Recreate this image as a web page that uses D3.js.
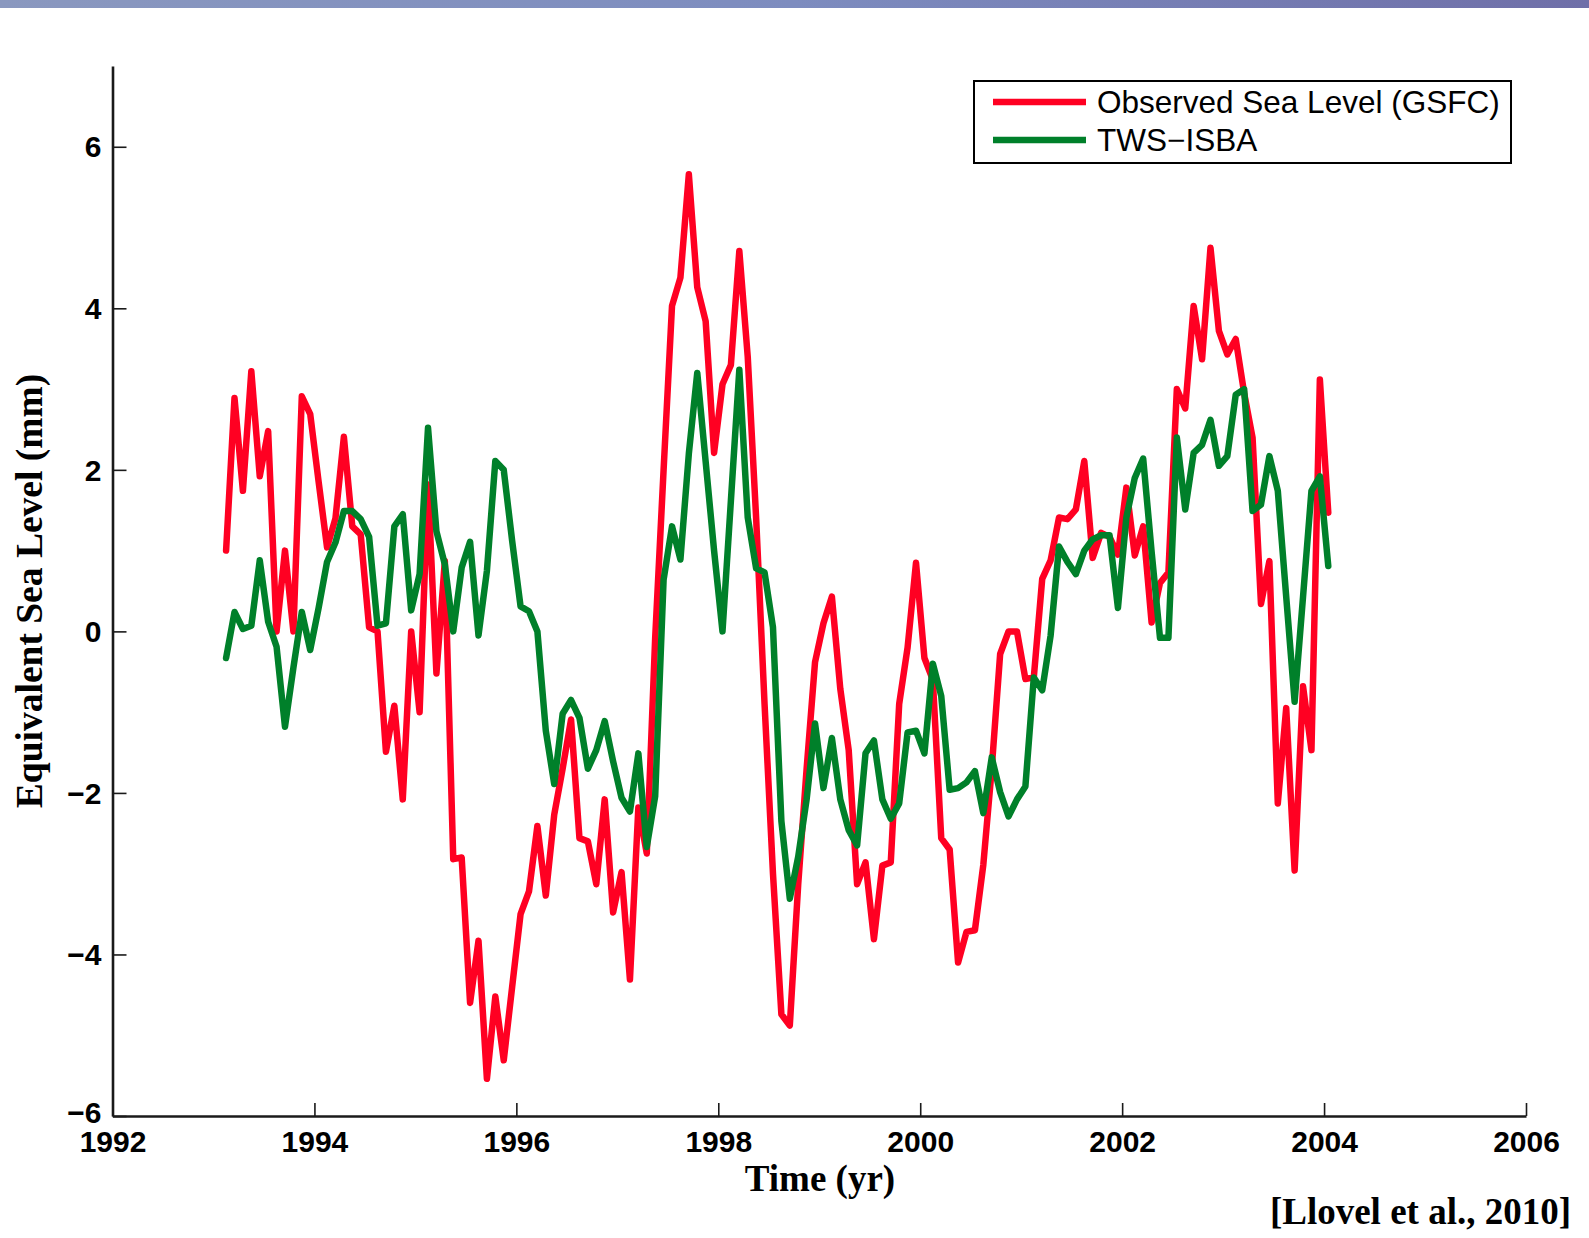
<!DOCTYPE html>
<html>
<head>
<meta charset="utf-8">
<script src="https://cdn.jsdelivr.net/npm/d3@7"></script>
<style>
  html, body { margin: 0; padding: 0; background: #ffffff; }
  svg { display: block; }
</style>
</head>
<body>
<svg id="chart" width="1589" height="1238"></svg>
<script>
// ---------------- DATA (monthly, starting Feb 1993) ----------------
const startYear = 1993.125;
const observedSeaLevel = [
  1.0, 2.89, 1.74, 3.22, 1.92, 2.48, 0.0, 1.0, 0.0, 2.91, 2.69, 1.85,
  1.04, 1.4, 2.41, 1.3, 1.2, 0.05, 0.0, -1.49, -0.92, -2.08, 0.0, -1.0,
  1.82, -0.52, 0.87, -2.82, -2.8, -4.6, -3.83, -5.54, -4.52, -5.31, -4.4, -3.5,
  -3.22, -2.41, -3.27, -2.27, -1.70, -1.09, -2.56, -2.6, -3.13, -2.08, -3.48, -2.98,
  -4.31, -2.18, -2.75, -0.08, 2.0, 4.03, 4.38, 5.66, 4.26, 3.84, 2.21, 3.06,
  3.3, 4.71, 3.4, 1.4, -0.9, -3.0, -4.74, -4.88, -3.13, -1.70, -0.38, 0.1,
  0.43, -0.71, -1.47, -3.13, -2.86, -3.81, -2.9, -2.86, -0.9, -0.2, 0.85, -0.33,
  -0.6, -2.56, -2.7, -4.1, -3.72, -3.7, -2.89, -1.70, -0.28, 0.0, 0.0, -0.59,
  -0.57, 0.65, 0.88, 1.41, 1.39, 1.51, 2.11, 0.91, 1.22, 1.17, 0.95, 1.78,
  0.94, 1.3, 0.11, 0.6, 0.73, 3.0, 2.76, 4.03, 3.37, 4.75, 3.72, 3.43,
  3.62, 2.95, 2.4, 0.34, 0.87, -2.13, -0.95, -2.96, -0.68, -1.47, 3.12, 1.47
];
const twsIsba = [
  -0.33, 0.24, 0.03, 0.07, 0.88, 0.12, -0.19, -1.18, -0.45, 0.24, -0.23, 0.29,
  0.86, 1.1, 1.49, 1.49, 1.39, 1.17, 0.07, 0.1, 1.3, 1.45, 0.26, 0.71,
  2.52, 1.24, 0.83, 0.0, 0.79, 1.11, -0.05, 0.75, 2.11, 2.0, 1.12, 0.31,
  0.25, 0.0, -1.23, -1.89, -1.02, -0.85, -1.07, -1.70, -1.47, -1.11, -1.61, -2.06,
  -2.23, -1.51, -2.67, -2.04, 0.64, 1.3, 0.89, 2.2, 3.2, 2.1, 1.0, 0.0,
  1.62, 3.24, 1.41, 0.78, 0.73, 0.05, -2.35, -3.31, -2.79, -2.08, -1.14, -1.94,
  -1.32, -2.08, -2.46, -2.65, -1.51, -1.35, -2.08, -2.32, -2.13, -1.25, -1.23, -1.51,
  -0.4, -0.8, -1.96, -1.94, -1.87, -1.73, -2.25, -1.56, -1.99, -2.29, -2.08, -1.92,
  -0.57, -0.73, -0.05, 1.05, 0.86, 0.71, 1.0, 1.14, 1.19, 1.19, 0.29, 1.41,
  1.9, 2.14, 0.99, -0.08, -0.08, 2.4, 1.51, 2.21, 2.31, 2.62, 2.05, 2.17,
  2.93, 3.0, 1.49, 1.57, 2.17, 1.74, 0.43, -0.87, 0.43, 1.74, 1.92, 0.81
];
const timeYears = observedSeaLevel.map((_, i) => startYear + i / 12);
const xTickValues = [1992, 1994, 1996, 1998, 2000, 2002, 2004, 2006];
const yTickValues = [-6, -4, -2, 0, 2, 4, 6];
const seriesLabels = ["Observed Sea Level (GSFC)", "TWS\u2212ISBA"];
const seriesColors = ["#ff0022", "#00802a"];

// ---------------- LAYOUT ----------------
const svg = d3.select("#chart");
const plotLeft = 112.5, plotRight = 1526, plotTop = 66, plotBottom = 1116;

const x = d3.scaleLinear().domain([1992, 2006]).range([plotLeft, plotRight]);
const y = d3.scaleLinear().domain([-6, 7]).range([plotBottom, plotTop]);

// top decorative band
const defs = svg.append("defs");
const grad = defs.append("linearGradient").attr("id", "band").attr("x1", "0%").attr("x2", "100%");
grad.append("stop").attr("offset", "0%").attr("stop-color", "#8a98bf");
grad.append("stop").attr("offset", "50%").attr("stop-color", "#7d8cbf");
grad.append("stop").attr("offset", "100%").attr("stop-color", "#6f6fa8");
svg.append("rect").attr("x", 0).attr("y", 0).attr("width", 1589).attr("height", 8).attr("fill", "url(#band)");

// lines
const lineGen = d3.line().x((d, i) => x(timeYears[i])).y(d => y(d));
const plot = svg.append("g");
[observedSeaLevel, twsIsba].forEach((series, k) => {
  plot.append("path")
    .datum(series)
    .attr("d", lineGen)
    .attr("fill", "none")
    .attr("stroke", seriesColors[k])
    .attr("stroke-width", 6.5)
    .attr("stroke-linejoin", "round")
    .attr("stroke-linecap", "round");
});

// axes
const tickFont = "'Liberation Sans', Arial, Helvetica, sans-serif";
const xAxis = d3.axisBottom(x).tickValues(xTickValues).tickFormat(d3.format("d"))
  .tickSizeInner(-13).tickSizeOuter(0).tickPadding(15);
const yAxis = d3.axisLeft(y).tickValues(yTickValues).tickFormat(d => (d < 0 ? "\u2212" : "") + Math.abs(d))
  .tickSizeInner(-14).tickSizeOuter(0).tickPadding(11);

const gx = svg.append("g").attr("transform", `translate(0,${plotBottom})`).call(xAxis);
const gy = svg.append("g").attr("transform", `translate(${plotLeft},0)`).call(yAxis);
[gx, gy].forEach(g => {
  g.select(".domain").attr("stroke", "#1a1a1a").attr("stroke-width", 2.6);
  g.selectAll(".tick line").attr("stroke", "#1a1a1a").attr("stroke-width", 1.6);
  g.selectAll(".tick text")
    .attr("fill", "#000")
    .style("font-family", tickFont)
    .style("font-weight", "bold")
    .style("font-size", "30px");
});
gx.selectAll(".tick text").attr("dy", "0.71em");
gy.selectAll(".tick text").attr("dy", "0.34em");
// lowest y label sits just above the x labels, as in the reference
gy.selectAll(".tick text").filter(d => d === -6).attr("dy", "0.2em");

// axis titles
const serif = "'Liberation Serif', 'Times New Roman', Times, serif";
svg.append("text")
  .attr("x", 820).attr("y", 1191)
  .attr("text-anchor", "middle")
  .style("font-family", serif).style("font-weight", "bold").style("font-size", "37px")
  .text("Time (yr)");
svg.append("text")
  .attr("transform", `translate(42,${(plotTop + plotBottom) / 2}) rotate(-90)`)
  .attr("text-anchor", "middle")
  .style("font-family", serif).style("font-weight", "bold").style("font-size", "37.5px")
  .text("Equivalent Sea Level (mm)");
svg.append("text")
  .attr("x", 1571).attr("y", 1224)
  .attr("text-anchor", "end")
  .style("font-family", serif).style("font-weight", "bold").style("font-size", "37px")
  .text("[Llovel et al., 2010]");

// legend
const lg = svg.append("g");
lg.append("rect").attr("x", 974).attr("y", 81).attr("width", 537).attr("height", 82)
  .attr("fill", "#fff").attr("stroke", "#000").attr("stroke-width", 2);
seriesLabels.forEach((lab, k) => {
  const ly = 102 + k * 38;
  lg.append("line").attr("x1", 993).attr("x2", 1086).attr("y1", ly).attr("y2", ly)
    .attr("stroke", seriesColors[k]).attr("stroke-width", 6.5);
  lg.append("text").attr("x", 1097).attr("y", ly + 11)
    .style("font-family", tickFont).style("font-size", "31.5px").attr("fill", "#000")
    .text(lab);
});
</script>
</body>
</html>
